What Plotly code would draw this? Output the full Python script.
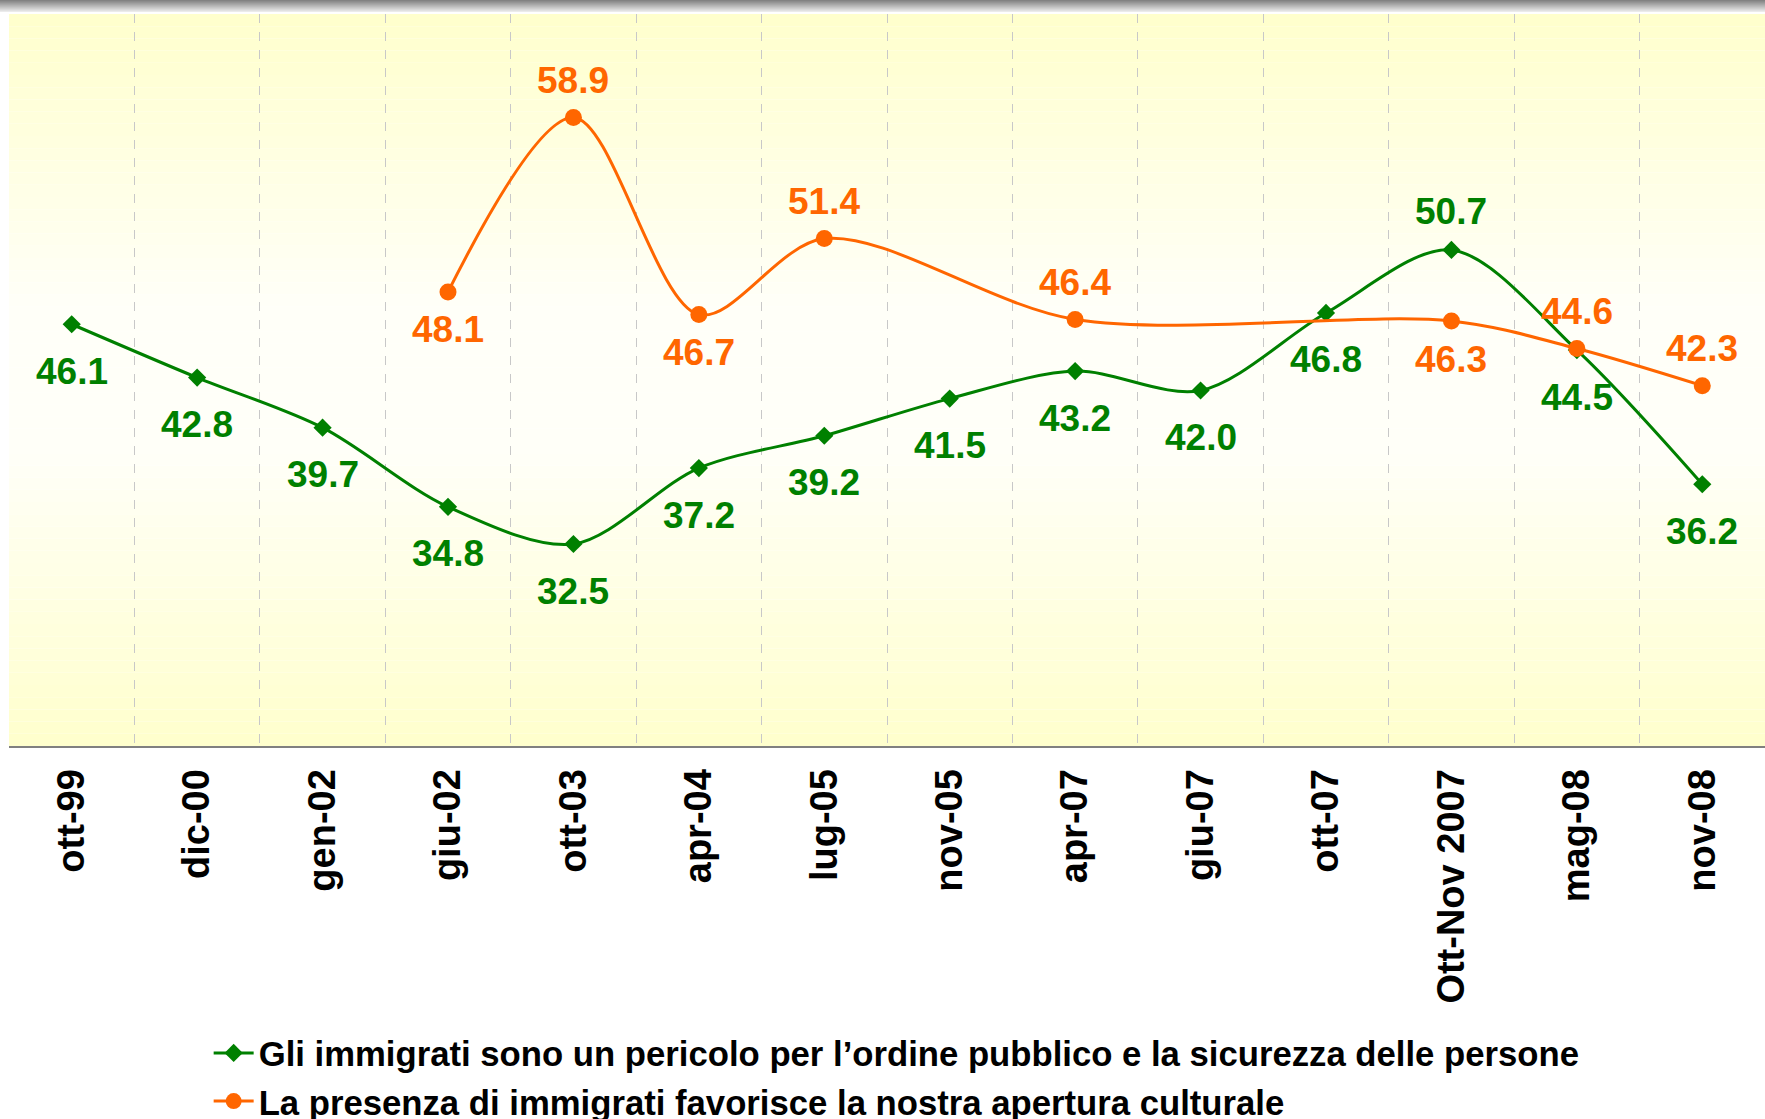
import plotly.graph_objects as go

# ---------------- data ----------------
categories = ["ott-99", "dic-00", "gen-02", "giu-02", "ott-03", "apr-04", "lug-05",
              "nov-05", "apr-07", "giu-07", "ott-07", "Ott-Nov 2007", "mag-08", "nov-08"]
pericolo = [46.1, 42.8, 39.7, 34.8, 32.5, 37.2, 39.2, 41.5, 43.2, 42.0, 46.8, 50.7, 44.5, 36.2]
apertura = [None, None, None, 48.1, 58.9, 46.7, 51.4, None, 46.4, None, None, 46.3, 44.6, 42.3]
name_pericolo = "Gli immigrati sono un pericolo per l’ordine pubblico e la sicurezza delle persone"
name_apertura = "La presenza di immigrati favorisce la nostra apertura culturale"

# label placement (style)
pos_pericolo = ["below"] * 11 + ["above", "below", "below"]
pos_apertura = [None, None, None, "below", "above", "below", "above", None, "above",
                None, None, "below", "above", "above"]

GREEN = "#008000"
ORANGE = "#FF6600"
FONT = "Liberation Sans"

W, H = 1765, 1119
ML, MR, MT, MB = 9, 0, 14, 373
PW, PH = W - ML - MR, H - MT - MB

fig = go.Figure()

fig.add_trace(go.Scatter(
    x=categories, y=pericolo, name=name_pericolo, mode="lines+markers",
    line=dict(color=GREEN, width=3, shape="spline", smoothing=0.9),
    marker=dict(symbol="diamond", size=14, color=GREEN),
    cliponaxis=False,
))
fig.add_trace(go.Scatter(
    x=categories, y=apertura, name=name_apertura, mode="lines+markers",
    line=dict(color=ORANGE, width=3, shape="spline", smoothing=0.9),
    marker=dict(symbol="circle", size=17, color=ORANGE),
    connectgaps=True, cliponaxis=False,
))

annotations = []
for cat, v, p in zip(categories, pericolo, pos_pericolo):
    annotations.append(dict(x=cat, y=v, text=f"{v:.1f}", showarrow=False,
                            yshift=(38 if p == "above" else -47),
                            font=dict(family=FONT, size=37, color=GREEN, weight="bold")))
for cat, v, p in zip(categories, apertura, pos_apertura):
    if v is None:
        continue
    annotations.append(dict(x=cat, y=v, text=f"{v:.1f}", showarrow=False,
                            yshift=(37 if p == "above" else -38),
                            font=dict(family=FONT, size=37, color=ORANGE, weight="bold")))

# background gradient of the plot area (yellow at edges, paler in the middle)
shapes = []
N = 60
y1c, y2c = (255, 255, 204), (255, 255, 248)
for i in range(N):
    t = (i + 0.5) / N
    f = 1 - abs(2 * t - 1)
    f = min(1.0, f * 1.25)
    c = tuple(round(a + (b - a) * f) for a, b in zip(y1c, y2c))
    shapes.append(dict(type="rect", xref="paper", yref="paper", x0=0, x1=1,
                       y0=i / N, y1=(i + 1) / N, line=dict(width=0),
                       fillcolor=f"rgb{c}", layer="below"))

# grey bar at top of the picture
NB = 12
for i in range(NB):
    g0, g1 = 130, 235
    g = round(g0 + (g1 - g0) * i / (NB - 1))
    shapes.append(dict(type="rect", xref="paper", yref="paper",
                       x0=-ML / PW, x1=1 + MR / PW,
                       y0=1 + (MT - i - 1) / PH, y1=1 + (MT - i) / PH,
                       line=dict(width=0), fillcolor=f"rgb({g},{g},{g})", layer="above"))

fig.update_layout(
    width=W, height=H,
    margin=dict(l=ML, r=MR, t=MT, b=MB, autoexpand=False),
    paper_bgcolor="white", plot_bgcolor="white",
    shapes=shapes, annotations=annotations,
    showlegend=True,
    legend=dict(x=0.1137, xanchor="left", y=-0.3796, yanchor="top",
                font=dict(family=FONT, size=34.7, color="black", weight="bold"),
                bgcolor="rgba(0,0,0,0)", tracegroupgap=0, itemwidth=40),
    font=dict(family=FONT),
)
fig.update_xaxes(
    type="category", range=[-0.5, len(categories) - 0.5],
    tickson="boundaries", showgrid=True, gridcolor="#C8C8C8", griddash="dash", gridwidth=1,
    showline=True, linecolor="#808080", linewidth=2,
    ticks="", tickangle=-90, ticklabelstandoff=6,
    tickfont=dict(family=FONT, size=38, color="black", weight="bold"),
    zeroline=False, automargin=False,
)
fig.update_yaxes(range=[20, 65.3], visible=False, showgrid=False, zeroline=False)

fig.write_html("out.html", config={"displayModeBar": False},
               post_script="document.body.style.margin='0';")
